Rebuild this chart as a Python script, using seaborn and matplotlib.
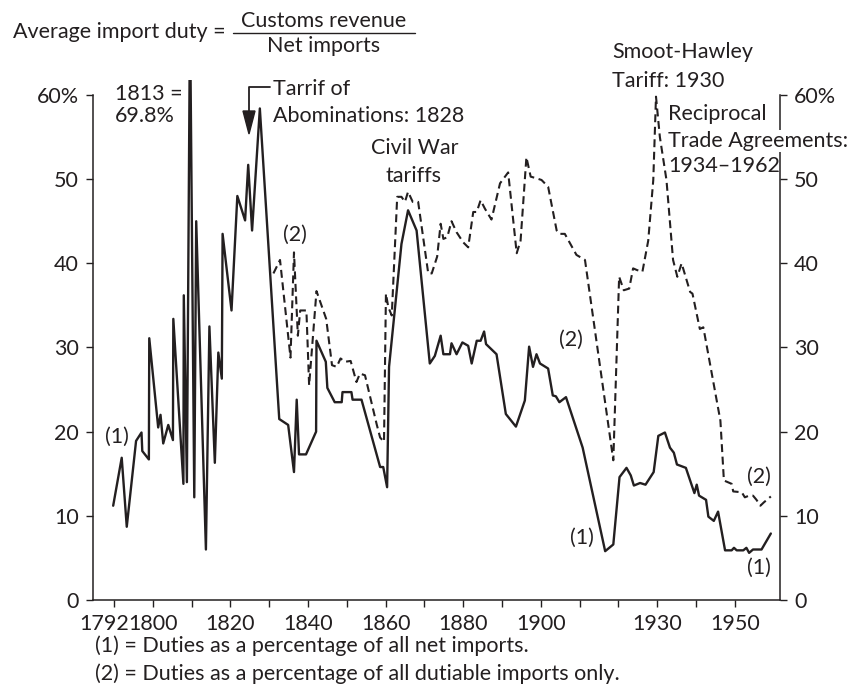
"""Average US import duty, 1792-1962, redrawn with seaborn."""

import matplotlib

matplotlib.use("Agg")
import matplotlib.pyplot as plt
import matplotlib.transforms as mtransforms
from matplotlib.lines import Line2D
from matplotlib.patches import Polygon
import seaborn as sns

W, H = 849, 693
INK = "#231f20"
FS = 15.5

# (1) duties as % of all net imports
net_years = [
    1789.8, 1792.0, 1793.3, 1795.7, 1797.1, 1797.3, 1799.0, 1799.1, 1801.4, 1802.0,
    1802.7, 1804.0, 1805.2, 1805.3, 1807.9, 1808.0, 1808.8, 1809.6, 1810.7, 1811.2,
    1813.7, 1814.6, 1816.0, 1816.9, 1817.8, 1818.0, 1820.3, 1821.8, 1823.8, 1824.6,
    1825.6, 1827.6, 1832.6, 1834.9, 1836.4, 1837.1, 1837.7, 1839.5, 1842.1, 1842.2,
    1844.6, 1845.0, 1846.9, 1848.7, 1848.9, 1851.2, 1851.5, 1853.8, 1858.6, 1859.4,
    1860.4, 1860.9, 1864.1, 1865.8, 1868.0, 1871.4, 1872.7, 1874.2, 1874.9, 1876.6,
    1877.0, 1878.3, 1879.8, 1881.3, 1882.2, 1883.5, 1884.5, 1885.4, 1885.9, 1888.6,
    1891.0, 1893.6, 1895.9, 1897.0, 1898.0, 1898.9, 1899.8, 1901.9, 1903.1, 1903.9,
    1904.8, 1906.5, 1910.8, 1916.6, 1918.7, 1920.3, 1922.1, 1923.2, 1924.0, 1925.6,
    1927.0, 1929.1, 1930.3, 1932.0, 1933.3, 1934.3, 1935.1, 1937.4, 1939.6, 1940.2,
    1940.8, 1942.6, 1943.2, 1944.6, 1945.7, 1947.5, 1949.2, 1949.8, 1950.5, 1952.2,
    1953.0, 1953.7, 1954.7, 1956.9, 1959.3,
]
net_duty = [
    11.2, 16.9, 8.7, 18.9, 19.9, 17.7, 16.7, 31.1, 20.5, 22.0,
    18.6, 20.8, 19.0, 33.4, 13.8, 36.2, 14.0, 69.8, 12.2, 45.0,
    6.0, 32.5, 16.3, 29.4, 26.3, 43.5, 34.4, 48.0, 45.1, 51.7,
    43.9, 58.4, 21.5, 20.8, 15.2, 23.8, 17.3, 17.3, 20.0, 30.8,
    28.3, 25.2, 23.5, 23.5, 24.7, 24.7, 23.8, 23.8, 15.8, 15.8,
    13.4, 27.7, 42.3, 46.3, 43.9, 28.1, 29.0, 31.4, 29.2, 29.2,
    30.5, 29.2, 30.6, 30.2, 28.1, 30.8, 30.8, 31.9, 30.4, 29.2,
    22.1, 20.6, 23.7, 30.1, 27.7, 29.2, 28.1, 27.5, 24.3, 24.2,
    23.5, 24.1, 18.1, 5.8, 6.6, 14.6, 15.7, 14.8, 13.6, 13.9,
    13.7, 15.2, 19.5, 19.9, 18.1, 17.5, 16.1, 15.7, 12.7, 13.7,
    12.4, 11.9, 9.9, 9.4, 10.5, 5.9, 5.9, 6.2, 5.9, 5.9,
    6.2, 5.6, 6.0, 6.0, 7.9,
]

# (2) duties as % of dutiable imports only
dutiable_years = [
    1831.1, 1832.8, 1835.5, 1836.4, 1837.4, 1838.0, 1839.6, 1840.3, 1842.2, 1844.7,
    1846.2, 1847.4, 1848.4, 1849.5, 1851.0, 1852.5, 1853.4, 1854.7, 1857.7, 1858.6,
    1859.6, 1860.1, 1860.7, 1861.6, 1863.0, 1864.1, 1865.0, 1865.8, 1867.0, 1868.4,
    1871.0, 1871.9, 1873.3, 1874.2, 1874.9, 1875.9, 1877.0, 1878.3, 1880.0, 1881.3,
    1882.6, 1883.5, 1884.5, 1885.6, 1887.3, 1889.5, 1891.6, 1893.8, 1894.8, 1896.3,
    1897.4, 1898.9, 1900.2, 1901.9, 1904.1, 1904.8, 1906.2, 1909.2, 1911.4, 1918.7,
    1920.2, 1921.4, 1922.8, 1923.8, 1924.8, 1926.2, 1927.7, 1929.0, 1929.7, 1930.7,
    1932.4, 1934.1, 1935.2, 1936.3, 1938.5, 1939.1, 1941.0, 1941.9, 1946.3, 1947.2,
    1949.2, 1949.6, 1951.8, 1952.6, 1953.7, 1954.7, 1955.6, 1956.6, 1957.5, 1959.3,
]
dutiable_duty = [
    38.8, 40.4, 28.8, 41.3, 31.4, 34.4, 34.4, 25.5, 36.7, 33.4,
    27.9, 27.7, 28.7, 28.3, 28.4, 25.9, 26.9, 26.7, 20.9, 19.3,
    18.8, 36.4, 34.8, 33.8, 47.9, 47.9, 47.3, 48.5, 47.3, 47.3,
    38.8, 38.8, 40.8, 44.7, 42.9, 43.1, 45.0, 43.7, 42.5, 41.9,
    46.1, 46.1, 47.5, 46.5, 45.2, 49.5, 50.8, 41.2, 42.7, 52.6,
    50.3, 50.1, 49.9, 49.1, 43.9, 43.5, 43.5, 41.0, 40.4, 16.6,
    38.4, 36.8, 37.0, 39.4, 39.2, 39.0, 42.7, 49.9, 59.8, 55.0,
    49.9, 40.4, 38.4, 40.0, 36.6, 36.4, 32.2, 32.4, 21.3, 14.2,
    13.8, 12.9, 12.8, 12.2, 12.4, 12.4, 11.9, 11.2, 11.6, 12.3,
]

x_ticks = [1790, 1800, 1810, 1820, 1830, 1840, 1850, 1860, 1870, 1880,
           1890, 1900, 1910, 1920, 1930, 1940, 1950]
x_labels = ["1792", "1800", "", "1820", "", "1840", "", "1860", "", "1880",
            "", "1900", "", "", "1930", "", "1950"]
y_ticks = [0, 10, 20, 30, 40, 50, 60]
y_labels = ["0", "10", "20", "30", "40", "50", "60%"]


def fx(x):
    return x / W


def fy(y):
    return 1 - y / H


def label(x, y, s, ha="left", va="baseline", **kw):
    return fig.text(fx(x), fy(y), s, ha=ha, va=va, fontsize=FS, color=INK, **kw)


sns.set_style("ticks")
plt.rcParams["font.family"] = ["Lato", "DejaVu Sans"]

fig = plt.figure(figsize=(W / 100, H / 100), dpi=100)
ax = fig.add_axes([fx(93), fy(600), (780 - 93) / W, (600 - 80) / H])

sns.lineplot(x=net_years, y=net_duty, sort=False, ax=ax, color=INK, lw=1.7)
sns.lineplot(x=dutiable_years, y=dutiable_duty, sort=False, ax=ax, color=INK,
             lw=1.5, linestyle=(0, (3.8, 2.2)))

ax.set_xlim(1784.6, 1961.66)
ax.set_ylim(0, 61.78)
ax.set_xticks(x_ticks)
ax.set_xticklabels(x_labels)
ax.set_yticks(y_ticks)
ax.set_yticklabels(y_labels)
ax.set_xlabel("")
ax.set_ylabel("")

ax2 = ax.twinx()
ax2.set_ylim(ax.get_ylim())
ax2.set_yticks(y_ticks)
ax2.set_yticklabels(y_labels)

for a in (ax, ax2):
    a.spines["top"].set_visible(False)
    for sp in a.spines.values():
        sp.set_color(INK)
        sp.set_linewidth(1.1)
    a.tick_params(direction="out", length=5, width=1, color=INK,
                  labelsize=FS, labelcolor=INK, pad=5)
ax.spines["right"].set_visible(False)
ax.spines["left"].set_bounds(0, 60)
ax2.spines["left"].set_visible(False)
ax2.spines["bottom"].set_visible(False)
ax2.spines["right"].set_bounds(0, 60)
ax.tick_params(axis="x", pad=5)

# nudge the first year label left of its tick
first = ax.get_xticklabels()[0]
first.set_transform(first.get_transform()
                    + mtransforms.ScaledTranslation(-0.095, 0, fig.dpi_scale_trans))

# formula at top
label(13, 38, "Average import duty =")
label(324, 27, "Customs revenue", ha="center")
fig.add_artist(Line2D([fx(233), fx(415)], [fy(32.5), fy(32.5)],
                      color=INK, lw=1.0, transform=fig.transFigure))
label(324, 52, "Net imports", ha="center")

# annotations
label(115, 100, "1813 =")
label(115, 122, "69.8%")
label(273, 95, "Tarrif of")
label(273, 122, "Abominations: 1828")
fig.add_artist(Line2D([fx(270), fx(249), fx(249)], [fy(87), fy(87), fy(112)],
                      color=INK, lw=1.3, transform=fig.transFigure))
fig.add_artist(Polygon([(fx(243), fy(111)), (fx(255), fy(111)), (fx(249), fy(134))],
                       closed=True, color=INK, transform=fig.transFigure))
label(415, 154, "Civil War", ha="center")
label(413, 182, "tariffs", ha="center")
label(612, 58, "Smoot-Hawley")
label(612, 87, "Tariff: 1930")
label(668, 120, "Reciprocal")
label(668, 147, "Trade Agreements:",
      bbox=dict(facecolor="white", edgecolor="none", pad=0.5))
label(668, 172, "1934\u20131962")

label(295, 235, "(2)", ha="center", va="center")
label(117, 437, "(1)", ha="center", va="center")
label(571, 340, "(2)", ha="center", va="center")
label(582, 538, "(1)", ha="center", va="center")
label(759, 477, "(2)", ha="center", va="center")
label(759, 568, "(1)", ha="center", va="center")

# footnotes
label(95, 652, "(1) = Duties as a percentage of all net imports.")
label(95, 680, "(2) = Duties as a percentage of all dutiable imports only.")

fig.savefig("out.png", dpi=100)
